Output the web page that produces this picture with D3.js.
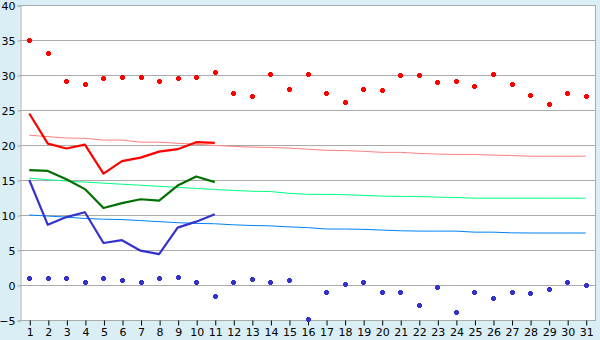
<!DOCTYPE html>
<html>
<head>
<meta charset="utf-8">
<script src="https://cdn.jsdelivr.net/npm/d3@7"></script>
<style>
  html, body { margin: 0; padding: 0; background: #d9eef5; }
  svg { display: block; }
  text { font-family: "DejaVu Sans", Verdana, sans-serif; font-size: 11px; fill: #000; }
</style>
</head>
<body>
<script>
const WIDTH = 600
const HEIGHT = 340

// jours du mois
const DAYS = d3.range(1, 32)

// maxima et minima du jour (points)
const MAX_POINTS = [35, 33.2, 29.1, 28.7, 29.5, 29.7, 29.7, 29.1, 29.5, 29.7,
  30.4, 27.5, 27, 30.1, 28, 30.1, 27.5, 26.1, 28, 27.8,
  30, 30, 29, 29.2, 28.5, 30.2, 28.7, 27.2, 25.8, 27.5, 27]
const MIN_POINTS = [1, 1, 1, 0.4, 1, 0.7, 0.4, 1, 1.1, 0.5,
  -1.5, 0.5, 0.8, 0.4, 0.7, -4.8, -1, 0.1, 0.5, -1,
  -1, -2.8, -0.3, -3.9, -1, -1.8, -1, -1.2, -0.6, 0.5, 0]

// courbes épaisses (jours 1 à 11)
const MAX_LINE = [24.5, 20.2, 19.5, 20.05, 15.9, 17.7, 18.2, 19.05, 19.4, 20.4, 20.3]
const MEAN_LINE = [16.4, 16.3, 15.1, 13.7, 11, 11.7, 12.25, 12.05, 14.2, 15.5, 14.7]
const MIN_LINE = [15, 8.6, 9.7, 10.4, 6, 6.4, 4.9, 4.4, 8.2, 9.05, 10.1]

// normales
const NORMAL_MAX = [21.4, 21.2, 21, 20.95, 20.7, 20.7, 20.4, 20.4, 20.25, 20.1,
  19.95, 19.8, 19.7, 19.65, 19.55, 19.4, 19.25, 19.2, 19.1, 18.95,
  18.95, 18.8, 18.7, 18.65, 18.65, 18.55, 18.5, 18.4, 18.4, 18.4, 18.4]
const NORMAL_MEAN = [15.25, 15.05, 14.85, 14.7, 14.55, 14.4, 14.25, 14.1, 13.95, 13.8,
  13.65, 13.5, 13.4, 13.35, 13.1, 12.95, 12.95, 12.9, 12.8, 12.7,
  12.65, 12.65, 12.55, 12.5, 12.4, 12.4, 12.4, 12.4, 12.4, 12.4, 12.4]
const NORMAL_MIN = [10, 9.85, 9.7, 9.5, 9.4, 9.35, 9.2, 9.05, 8.9, 8.8,
  8.75, 8.6, 8.5, 8.45, 8.3, 8.2, 8.0, 8.0, 7.95, 7.85,
  7.75, 7.7, 7.7, 7.7, 7.55, 7.55, 7.45, 7.43, 7.43, 7.43, 7.43]

const Y_TICKS = [-5, 0, 5, 10, 15, 20, 25, 30, 35, 40]

const LEFT = 20, RIGHT = 595, TOP = 5, BOTTOM = 320

const svg = d3.select('body').append('svg')
  .attr('width', WIDTH)
  .attr('height', HEIGHT)

const x = d3.scalePoint()
  .domain(DAYS)
  .range([LEFT, RIGHT])
  .padding(0.5)

const y = d3.scaleLinear()
  .domain([-5, 40])
  .range([BOTTOM, TOP])

// zone de tracé
svg.append('rect')
  .attr('x', LEFT).attr('y', TOP)
  .attr('width', RIGHT - LEFT).attr('height', BOTTOM - TOP)
  .attr('fill', '#fff')

// grille
svg.append('g')
  .selectAll('line')
  .data(Y_TICKS)
  .join('line')
  .attr('x1', LEFT).attr('x2', RIGHT)
  .attr('y1', d => Math.round(y(d)) + 0.5)
  .attr('y2', d => Math.round(y(d)) + 0.5)
  .attr('stroke', '#aaa')

svg.append('line')
  .attr('x1', RIGHT + 0.5).attr('x2', RIGHT + 0.5)
  .attr('y1', TOP).attr('y2', BOTTOM + 1)
  .attr('stroke', '#aaa')

// axes
const yAxis = svg.append('g')
  .attr('transform', `translate(${LEFT + 0.5},0.5)`)
  .call(d3.axisLeft(y).tickValues(Y_TICKS).tickSize(3).tickPadding(2).tickFormat(d => d < 0 ? '\u2212' + Math.abs(d) : d))
yAxis.selectAll('line, path').attr('stroke', '#aaa')
yAxis.selectAll('text').attr('font-size', 11).attr('font-family', null).attr('fill', '#000')

const xAxis = svg.append('g')
  .attr('transform', `translate(0.5,${BOTTOM + 0.5})`)
  .call(d3.axisBottom(x).tickSize(5).tickPadding(3).tickSizeOuter(0))
xAxis.select('path').remove()
xAxis.selectAll('line').attr('stroke', '#000')
xAxis.selectAll('text').attr('font-size', 11).attr('font-family', null).attr('fill', '#000')

// normales (fines)
const line = d3.line()
  .x((d, i) => x(DAYS[i]))
  .y(d => y(d))

const thin = [
  [NORMAL_MAX, '#ff8080'],
  [NORMAL_MEAN, '#00ff80'],
  [NORMAL_MIN, '#0080ff']
]
thin.forEach(([vals, color]) => {
  svg.append('path')
    .datum(vals)
    .attr('d', line)
    .attr('fill', 'none')
    .attr('stroke', color)
    .attr('stroke-width', 1)
})

// courbes épaisses
const thick = [
  [MAX_LINE, '#ff0000'],
  [MEAN_LINE, '#007000'],
  [MIN_LINE, '#3333cc']
]
thick.forEach(([vals, color]) => {
  svg.append('path')
    .datum(vals)
    .attr('d', line)
    .attr('fill', 'none')
    .attr('stroke', color)
    .attr('stroke-width', 2.2)
    .attr('stroke-linejoin', 'round')
})

// points : petite croix pleine
const MARKER = 'M-1.5,-2.5H1.5V-1.5H2.5V1.5H1.5V2.5H-1.5V1.5H-2.5V-1.5H-1.5Z'
const dots = [
  [MAX_POINTS, '#ff0000'],
  [MIN_POINTS, '#3333cc']
]
dots.forEach(([vals, color]) => {
  svg.append('g')
    .selectAll('path')
    .data(vals)
    .join('path')
    .attr('transform', (d, i) => `translate(${Math.round(x(DAYS[i])) + 0.5},${Math.round(y(d)) + 0.5})`)
    .attr('d', MARKER)
    .attr('fill', color)
    .attr('shape-rendering', 'crispEdges')
})
</script>
</body>
</html>
